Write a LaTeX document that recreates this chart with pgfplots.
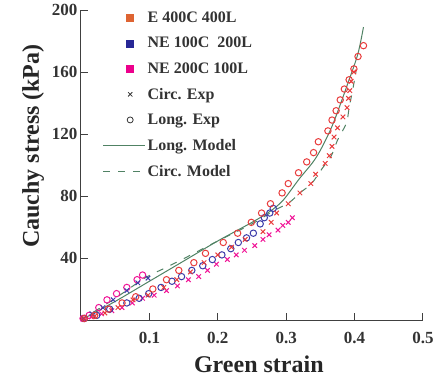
\documentclass[border=0pt]{standalone}
\usepackage{fontspec}
\setmainfont{Liberation Serif}
\usepackage{pgfplots}
\pgfplotsset{compat=1.18}
\definecolor{cE}{RGB}{232,60,60}
\definecolor{cEleg}{RGB}{222,100,50}
\definecolor{cB}{RGB}{60,60,170}
\definecolor{cBleg}{RGB}{40,40,150}
\definecolor{cM}{RGB}{240,20,150}
\definecolor{cMleg}{RGB}{236,0,140}
\definecolor{cG}{RGB}{80,130,100}
\pgfplotsset{
  markleg/.style={legend image code/.code={\draw[##1] plot coordinates {(20pt,0pt)};}},
  lineleg/.style={legend image code/.code={\draw[##1] (-7pt,0pt) -- (35pt,0pt);}},
}
\begin{document}
\begin{tikzpicture}
\begin{axis}[
  at={(0pt,0pt)}, anchor=south west,
  scale only axis, width=342pt, height=310pt,
  xmin=0, xmax=0.5, ymin=0, ymax=200,
  axis lines=left, axis line style={-, black!75, line width=1pt},
  tick align=inside, major tick length=7pt,
  tick style={black!75, line width=1pt},
  xtick={0.1,0.2,0.3,0.4,0.5}, ytick={40,80,120,160,200},
  xticklabels={0.1,0.2,0.3,0.4,0.5},
  yticklabels={40,80,120,160,200},
  ticklabel style={font=\fontsize{17}{17}\selectfont\bfseries, text=black!80},
  xticklabel style={anchor=base, yshift=-23pt},
  xlabel={Green strain}, ylabel={Cauchy stress (kPa)},
  label style={font=\fontsize{24}{24}\selectfont\bfseries, text=black!85},
  xlabel style={at={(axis description cs:0.52,0)}, anchor=base, yshift=-52pt},
  ylabel style={at={(axis description cs:-0.123,0.561)}, anchor=base},
  legend style={draw=none, fill=none, at={(axis description cs:0.054,1.008)}, anchor=north west,
    font=\fontsize{16}{16}\selectfont\bfseries, text=black!80, row sep=9.3pt},
  legend cell align=left,
  clip=false,
]
% legend entries
\addlegendimage{only marks, mark=square*, mark size=3.5pt, color=cEleg, markleg}
\addlegendentry{E 400C 400L}
\addlegendimage{only marks, mark=square*, mark size=3.5pt, color=cBleg, markleg}
\addlegendentry{NE 100C\ \ 200L}
\addlegendimage{only marks, mark=square*, mark size=3.5pt, color=cMleg, markleg}
\addlegendentry{NE 200C 100L}
\addlegendimage{only marks, mark=x, mark size=3pt, color=black!80, line width=0.8pt, markleg}
\addlegendentry{Circ. Exp}
\addlegendimage{only marks, mark=o, mark size=3pt, color=black!80, line width=0.8pt, markleg}
\addlegendentry{Long. Exp}
\addlegendimage{cG, line width=1pt, lineleg}
\addlegendentry{Long. Model}
\addlegendimage{cG, line width=1pt, dash pattern=on 7pt off 8pt, lineleg}
\addlegendentry{Circ. Model}

% magenta circ (crosses)
\addplot[forget plot, only marks, mark=x, mark size=3.2pt, color=cM, line width=1pt] coordinates {
(0.003,0.5)(0.015,2)(0.03,4)(0.045,6)(0.060,8)(0.075,11)(0.090,14)(0.107,16)(0.125,19)
(0.141,22)(0.157,26)(0.172,28)(0.185,32)(0.198,36)(0.214,39)(0.227,42)(0.239,45)(0.254,48)
(0.266,52)(0.275,55)(0.288,58)(0.295,61)(0.303,63)(0.309,66)};
% magenta long (circles)
\addplot[forget plot, only marks, mark=o, mark size=3.2pt, color=cM, line width=1pt] coordinates {
(0.003,1)(0.012,3)(0.026,8)(0.038,13)(0.052,17)(0.067,21)(0.082,26)(0.090,29)};
% blue long (circles)
\addplot[forget plot, only marks, mark=o, mark size=3.2pt, color=cB, line width=1pt] coordinates {
(0.005,1)(0.023,3)(0.042,7)(0.067,11)(0.085,14)(0.099,17)(0.117,21)(0.133,25)(0.147,28)
(0.162,32)(0.178,35)(0.192,39)(0.206,42)(0.219,46)(0.230,50)(0.242,53)(0.252,56)(0.262,62)
(0.268,66)(0.276,69)(0.281,72)};
% blue circ (crosses)
\addplot[forget plot, only marks, mark=x, mark size=3.2pt, color=cB, line width=1pt] coordinates {
(0.004,1)(0.016,4)(0.032,8)(0.047,13)(0.067,19)(0.083,24)(0.098,27)};
% red long (circles)
\addplot[forget plot, only marks, mark=o, mark size=3.2pt, color=cE, line width=1pt] coordinates {
(0.005,1)(0.02,3)(0.04,7)(0.06,11)(0.08,15)(0.105,20)(0.125,26)(0.143,32)(0.165,37)(0.182,43)
(0.208,50)(0.229,56)(0.249,63)(0.264,69)(0.277,75)(0.294,82)(0.303,88)(0.318,95)(0.330,102)
(0.340,108)(0.347,115)(0.361,122)(0.367,129)(0.373,135)(0.379,142)(0.385,149)(0.392,155)
(0.399,162)(0.405,170)(0.413,177)};
% red circ (crosses)
\addplot[forget plot, only marks, mark=x, mark size=3.2pt, color=cE, line width=1pt] coordinates {
(0.005,1)(0.02,2.5)(0.035,4.5)(0.054,8)(0.076,13)(0.098,16)(0.121,21)(0.14,26)(0.160,31)
(0.18,37)(0.20,42)(0.22,47)(0.24,52)(0.266,57)(0.278,63)(0.286,69)(0.303,75)(0.320,82)
(0.336,88)(0.343,94)(0.357,101)(0.363,106)(0.367,112)(0.370,118)(0.375,124)(0.383,131)
(0.389,137)(0.391,143)(0.393,148)(0.395,154)(0.399,160)};
% long model
\addplot[forget plot, cG, line width=1pt, smooth] coordinates {
(0,0)(0.05,12)(0.1,25)(0.15,38)(0.2,51)(0.25,63)(0.276,70)(0.295,77)(0.319,91)(0.344,105)
(0.367,125)(0.392,155)(0.405,172)(0.413,189)};
% circ model
\addplot[forget plot, cG, line width=1pt, dash pattern=on 7pt off 8pt, smooth] coordinates {
(0,0)(0.05,14)(0.093,27)(0.125,34)(0.152,40)(0.2,51)(0.25,62)(0.28,70)(0.305,76)(0.320,82)
(0.337,88)(0.353,98)(0.366,106)(0.375,116)(0.388,127)(0.392,137)(0.397,148)(0.402,160)};
\end{axis}
\pgfresetboundingbox
\path[use as bounding box] (-81pt,-58pt) rectangle (361pt,320pt);
\end{tikzpicture}
\end{document}
